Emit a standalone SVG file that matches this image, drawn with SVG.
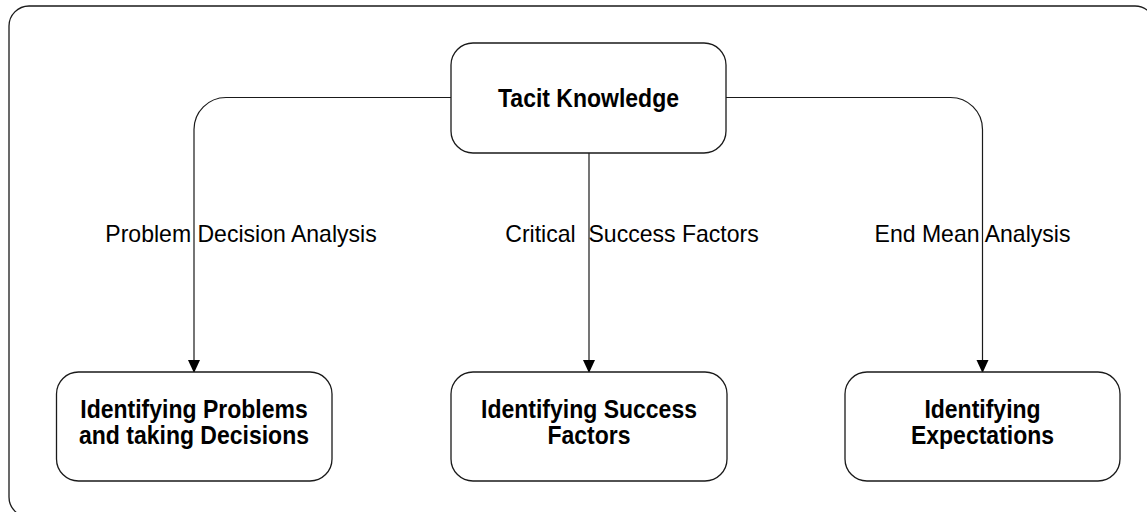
<svg xmlns="http://www.w3.org/2000/svg" width="1147" height="512" viewBox="0 0 1147 512">
<style>
.box{fill:#fff;stroke:#1a1a1a;stroke-width:1.3}
.frame{fill:#fff;stroke:#1a1a1a;stroke-width:1.3}
.conn{fill:none;stroke:#1a1a1a;stroke-width:1.2}
.nt{font-family:"Liberation Sans",Arial,sans-serif;font-weight:bold;font-size:25px;text-anchor:middle;fill:#000}
.lt{font-family:"Liberation Sans",Arial,sans-serif;font-size:24px;text-anchor:middle;fill:#000}
</style>
<defs>
<marker id="arr" markerWidth="13" markerHeight="14" refX="13" refY="6.5" orient="auto" markerUnits="userSpaceOnUse" viewBox="0 0 14 13">
<path d="M0,0 L14,6.5 L0,13 Z" fill="#000"/>
</marker>
</defs>
<rect class="frame" x="9" y="6" width="1146" height="511" rx="20" ry="20"/>
<g id="connectors">
<path class="conn" d="M451,97.5 H226 A32,32 0 0 0 194,129.5 V372" marker-end="url(#arr)"/>
<path class="conn" d="M589,153 V372" marker-end="url(#arr)"/>
<path class="conn" d="M726,97.5 H950 A32,32 0 0 1 982.5,129.5 V372" marker-end="url(#arr)"/>
<g transform="translate(241,242) scale(0.96,1)"><text class="lt" x="0" y="0">Problem Decision Analysis</text></g>
<g transform="translate(632,242) scale(0.96,1)"><text class="lt" x="0" y="0" xml:space="preserve">Critical  Success Factors</text></g>
<g transform="translate(972.5,242) scale(0.96,1)"><text class="lt" x="0" y="0">End Mean Analysis</text></g>
</g>
<g id="tacit">
<rect class="box" x="451" y="43" width="275" height="110" rx="22" ry="22"/>
<g transform="translate(588.5,106.5) scale(0.92,1)"><text class="nt" x="0" y="0">Tacit Knowledge</text></g>
</g>
<g id="problems">
<rect class="box" x="56.5" y="372" width="275.5" height="109" rx="22" ry="22"/>
<g transform="translate(194,0) scale(0.92,1)">
<text class="nt" x="0" y="418">Identifying Problems</text>
<text class="nt" x="0" y="444">and taking Decisions</text>
</g>
</g>
<g id="success">
<rect class="box" x="451" y="372" width="276" height="109" rx="22" ry="22"/>
<g transform="translate(589,0) scale(0.92,1)">
<text class="nt" x="0" y="418">Identifying Success</text>
<text class="nt" x="0" y="444">Factors</text>
</g>
</g>
<g id="expectations">
<rect class="box" x="845" y="372" width="275" height="109" rx="22" ry="22"/>
<g transform="translate(982.5,0) scale(0.92,1)">
<text class="nt" x="0" y="418">Identifying</text>
<text class="nt" x="0" y="444">Expectations</text>
</g>
</g>
</svg>
